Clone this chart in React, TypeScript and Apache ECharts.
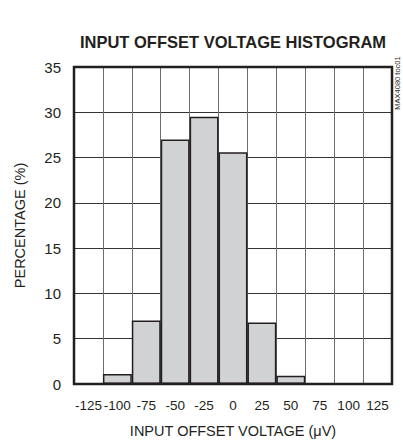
import React, { useEffect, useRef } from "react";
import * as echarts from "echarts";

const categories = ["-125", "-100", "-75", "-50", "-25", "0", "25", "50", "75", "100", "125"];
const percentages = [null, 1.1, 7.0, 27.0, 29.5, 25.6, 6.8, 0.9, null, null, null];
const yMin = 0;
const yMax = 35;
const yStep = 5;

const FONT = "'Liberation Sans Narrow', 'Arial Narrow', 'Liberation Sans', Arial, sans-serif";
const INK = "#231f20";

export default function App() {
  const ref = useRef<HTMLDivElement>(null);
  useEffect(() => {
    const chart = echarts.init(ref.current!, null, { renderer: "svg" });
    chart.setOption({
      animation: false,
      backgroundColor: "#ffffff",
      title: {
        text: "INPUT OFFSET VOLTAGE HISTOGRAM",
        left: 233,
        top: 33,
        textAlign: "center",
        padding: 0,
        textStyle: { fontFamily: FONT, fontSize: 16.5, fontWeight: "bold", color: INK, lineHeight: 18 },
      },
      grid: {
        show: true,
        z: 10,
        left: 74,
        right: 11,
        top: 67,
        bottom: 61,
        borderWidth: 2.5,
        borderColor: INK,
        backgroundColor: "transparent",
      },
      xAxis: {
        type: "category",
        data: categories,
        boundaryGap: true,
        name: "INPUT OFFSET VOLTAGE (\u03bcV)",
        nameLocation: "middle",
        nameGap: 39,
        nameTextStyle: { fontFamily: FONT, fontSize: 14.5, color: INK },
        axisLine: { show: false },
        axisTick: { show: false },
        axisLabel: { fontFamily: FONT, fontSize: 13.5, color: INK, margin: 14, interval: 0 },
        splitLine: { show: true, interval: 0, lineStyle: { color: "#6d6e71", width: 1 } },
      },
      yAxis: {
        type: "value",
        min: yMin,
        max: yMax,
        interval: yStep,
        name: "PERCENTAGE (%)",
        nameLocation: "middle",
        nameGap: 47,
        nameTextStyle: { fontFamily: FONT, fontSize: 14.5, color: INK },
        axisLine: { show: false },
        axisTick: { show: false },
        axisLabel: { fontFamily: FONT, fontSize: 15, color: INK, margin: 13 },
        splitLine: { show: true, lineStyle: { color: "#333333", width: 1 } },
      },
      series: [
        {
          type: "bar",
          data: percentages,
          barWidth: "100%",
          barCategoryGap: 0,
          itemStyle: { color: "#d1d2d4", borderColor: INK, borderWidth: 1.5 },
        },
      ],
      graphic: [
        {
          type: "text",
          x: 397,
          y: 83,
          rotation: Math.PI / 2,
          style: {
            text: "MAX4080 toc01",
            fontFamily: FONT,
            fontSize: 7.5,
            fill: INK,
            align: "center",
            verticalAlign: "middle",
          },
        },
      ],
    });
    return () => chart.dispose();
  }, []);
  return <div ref={ref} style={{ width: 403, height: 445, position: "absolute", left: 0, top: 0 }} />;
}
